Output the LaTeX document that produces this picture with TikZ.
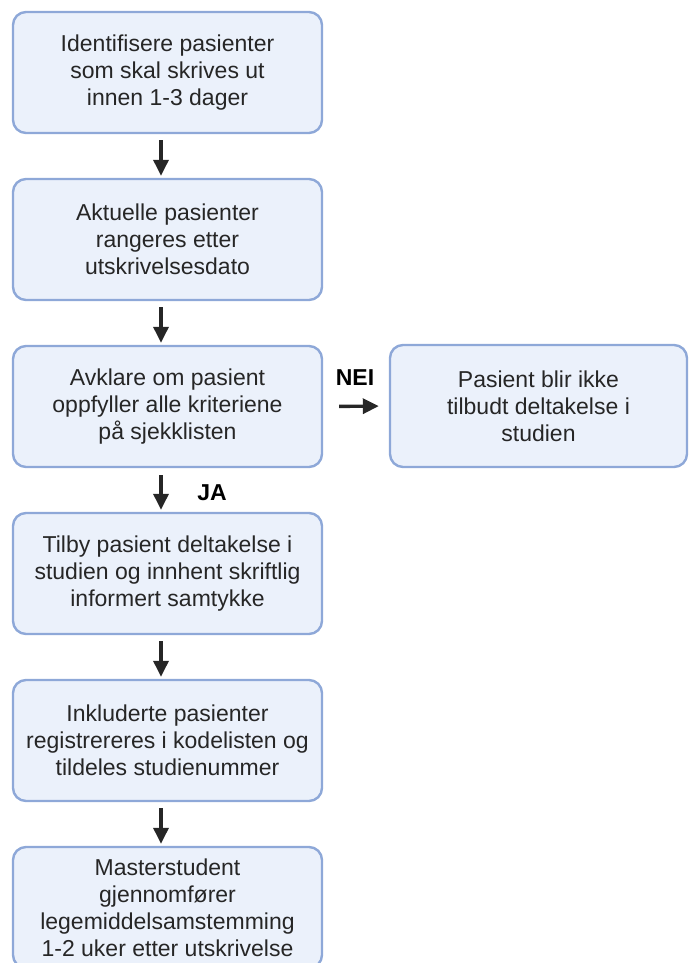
\documentclass[tikz,border=0pt]{standalone}
\usepackage{fontspec}
\setmainfont{Liberation Sans}
\usetikzlibrary{arrows.meta,positioning}
\definecolor{boxfill}{HTML}{EBF1FB}
\definecolor{boxline}{HTML}{8EA8D8}
\definecolor{txt}{HTML}{262626}

\begin{document}
\begin{tikzpicture}[
x=1pt,y=-1pt,
stepbox/.style={draw=boxline,fill=boxfill,line width=2.4pt,rounded corners=13pt,minimum width=309pt,minimum height=121pt,align=center,text=txt,font=\fontsize{23}{27}\selectfont},
edge/.style={-{Triangle[length=16pt,width=15pt]},line width=3.4pt,draw=txt},
lab/.style={font=\fontsize{23}{27}\selectfont\bfseries,text=black}
]
\useasboundingbox (0,0) rectangle (688,963);
\clip (0,0) rectangle (688,963);
\node[stepbox] (ident) at (167.5,72.5) {Identifisere pasienter\\som skal skrives ut\\innen 1-3 dager};
\node[stepbox] (rang) at (167.5,239.5) {Aktuelle pasienter\\rangeres etter\\utskrivelsesdato};
\node[stepbox] (avkl) at (167.5,406.5) {Avklare om pasient\\oppfyller alle kriteriene\\på sjekklisten};
\node[stepbox,minimum width=297pt,minimum height=122pt] (ikke) at (538.5,406) {Pasient blir ikke\\tilbudt deltakelse i\\studien};
\node[stepbox] (tilby) at (167.5,573.5) {Tilby pasient deltakelse i\\studien og innhent skriftlig\\informert samtykke};
\node[stepbox] (inkl) at (167.5,740.5) {Inkluderte pasienter\\registrereres i kodelisten og\\tildeles studienummer};
\node[stepbox] (master) at (167.5,907.5) {Masterstudent\\gjennomfører\\legemiddelsamstemming\\1-2 uker etter utskrivelse};
% arrows sit a bit left of the box middle
\draw[edge,shorten <=6pt,shorten >=2pt] ([xshift=-6.5pt]ident.south) -- ([xshift=-6.5pt]rang.north);
\draw[edge,shorten <=6pt,shorten >=2pt] ([xshift=-6.5pt]rang.south) -- ([xshift=-6.5pt]avkl.north);
\draw[edge,shorten <=7pt,shorten >=2pt] ([xshift=-6.5pt]avkl.south) -- ([xshift=-6.5pt]tilby.north);
\node[lab] (ja) at (212,493) {JA};
\draw[edge,shorten <=16pt,shorten >=10pt] (avkl.east) -- (ikke.west);
\node[lab] (nei) at (355,378) {NEI};
\draw[edge,shorten <=6pt,shorten >=2pt] ([xshift=-6.5pt]tilby.south) -- ([xshift=-6.5pt]inkl.north);
\draw[edge,shorten <=6pt,shorten >=2pt] ([xshift=-6.5pt]inkl.south) -- ([xshift=-6.5pt]master.north);
\end{tikzpicture}
\end{document}
